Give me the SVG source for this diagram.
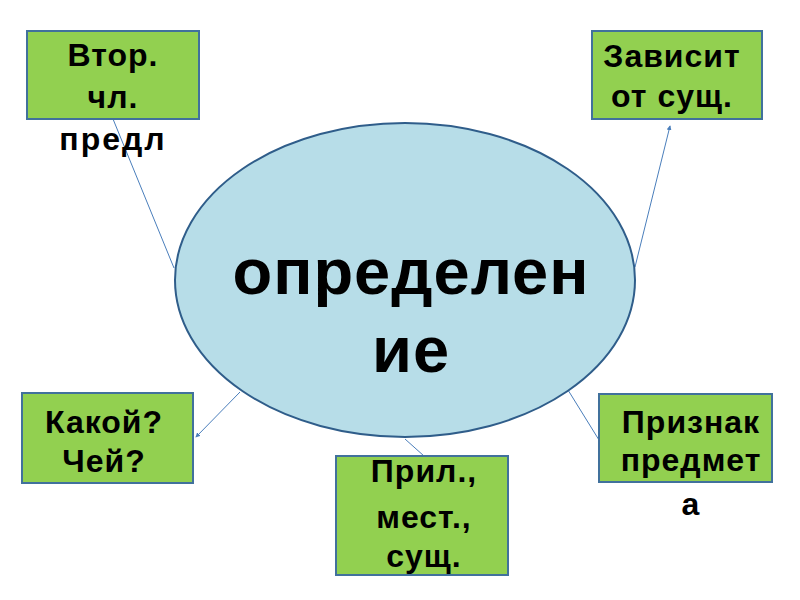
<svg xmlns="http://www.w3.org/2000/svg" width="800" height="600" viewBox="0 0 800 600">
<defs>
<style>
.box{fill:#92d050;stroke:#41719c;stroke-width:2}
.t{font-family:"Liberation Sans",Arial,sans-serif;font-weight:bold;font-size:32px;fill:#000;text-anchor:middle;letter-spacing:1px}
.big{font-family:"Liberation Sans",Arial,sans-serif;font-weight:bold;font-size:65px;fill:#000;text-anchor:middle;letter-spacing:1px}
.ln{stroke:#4a7ebb;stroke-width:1;fill:none}
</style>
<marker id="ah" viewBox="0 0 6 6" refX="5" refY="3" markerWidth="5" markerHeight="5" orient="auto" markerUnits="userSpaceOnUse">
<path d="M0,0 L6,3 L0,6 z" fill="#4a7ebb"/>
</marker>
</defs>
<rect width="800" height="600" fill="#fff"/>
<g id="connectors">
<line class="ln" x1="113" y1="119" x2="174" y2="268"/>
<line class="ln" x1="635" y1="267" x2="670" y2="126" marker-end="url(#ah)"/>
<line class="ln" x1="240" y1="392" x2="196" y2="437" marker-end="url(#ah)"/>
<line class="ln" x1="405" y1="439" x2="424" y2="456"/>
<line class="ln" x1="568" y1="390" x2="599" y2="440"/>
</g>
<g id="center">
<ellipse cx="405" cy="280" rx="230" ry="157" fill="#b7dde8" stroke="#2f5d8a" stroke-width="2"/>
<text class="big" x="411" y="294">определен</text>
<text class="big" x="411" y="372">ие</text>
</g>
<g id="n1">
<rect class="box" x="27" y="31" width="172" height="88"/>
<text class="t" x="113" y="66">Втор.</text>
<text class="t" x="113" y="108">чл.</text>
<text class="t" x="113" y="150" style="letter-spacing:2px">предл</text>
</g>
<g id="n2">
<rect class="box" x="592" y="31" width="170" height="88"/>
<text class="t" x="672" y="67">Зависит</text>
<text class="t" x="672" y="107">от сущ.</text>
</g>
<g id="n3">
<rect class="box" x="22" y="393" width="171" height="90"/>
<text class="t" x="104" y="433">Какой?</text>
<text class="t" x="104" y="472">Чей?</text>
</g>
<g id="n4">
<rect class="box" x="336" y="456" width="172" height="119"/>
<text class="t" x="424" y="482">Прил.,</text>
<text class="t" x="424" y="528">мест.,</text>
<text class="t" x="424" y="567">сущ.</text>
</g>
<g id="n5">
<rect class="box" x="599" y="394" width="173" height="88"/>
<text class="t" x="691" y="433">Признак</text>
<text class="t" x="691" y="471">предмет</text>
<text class="t" x="691" y="515">а</text>
</g>
</svg>
